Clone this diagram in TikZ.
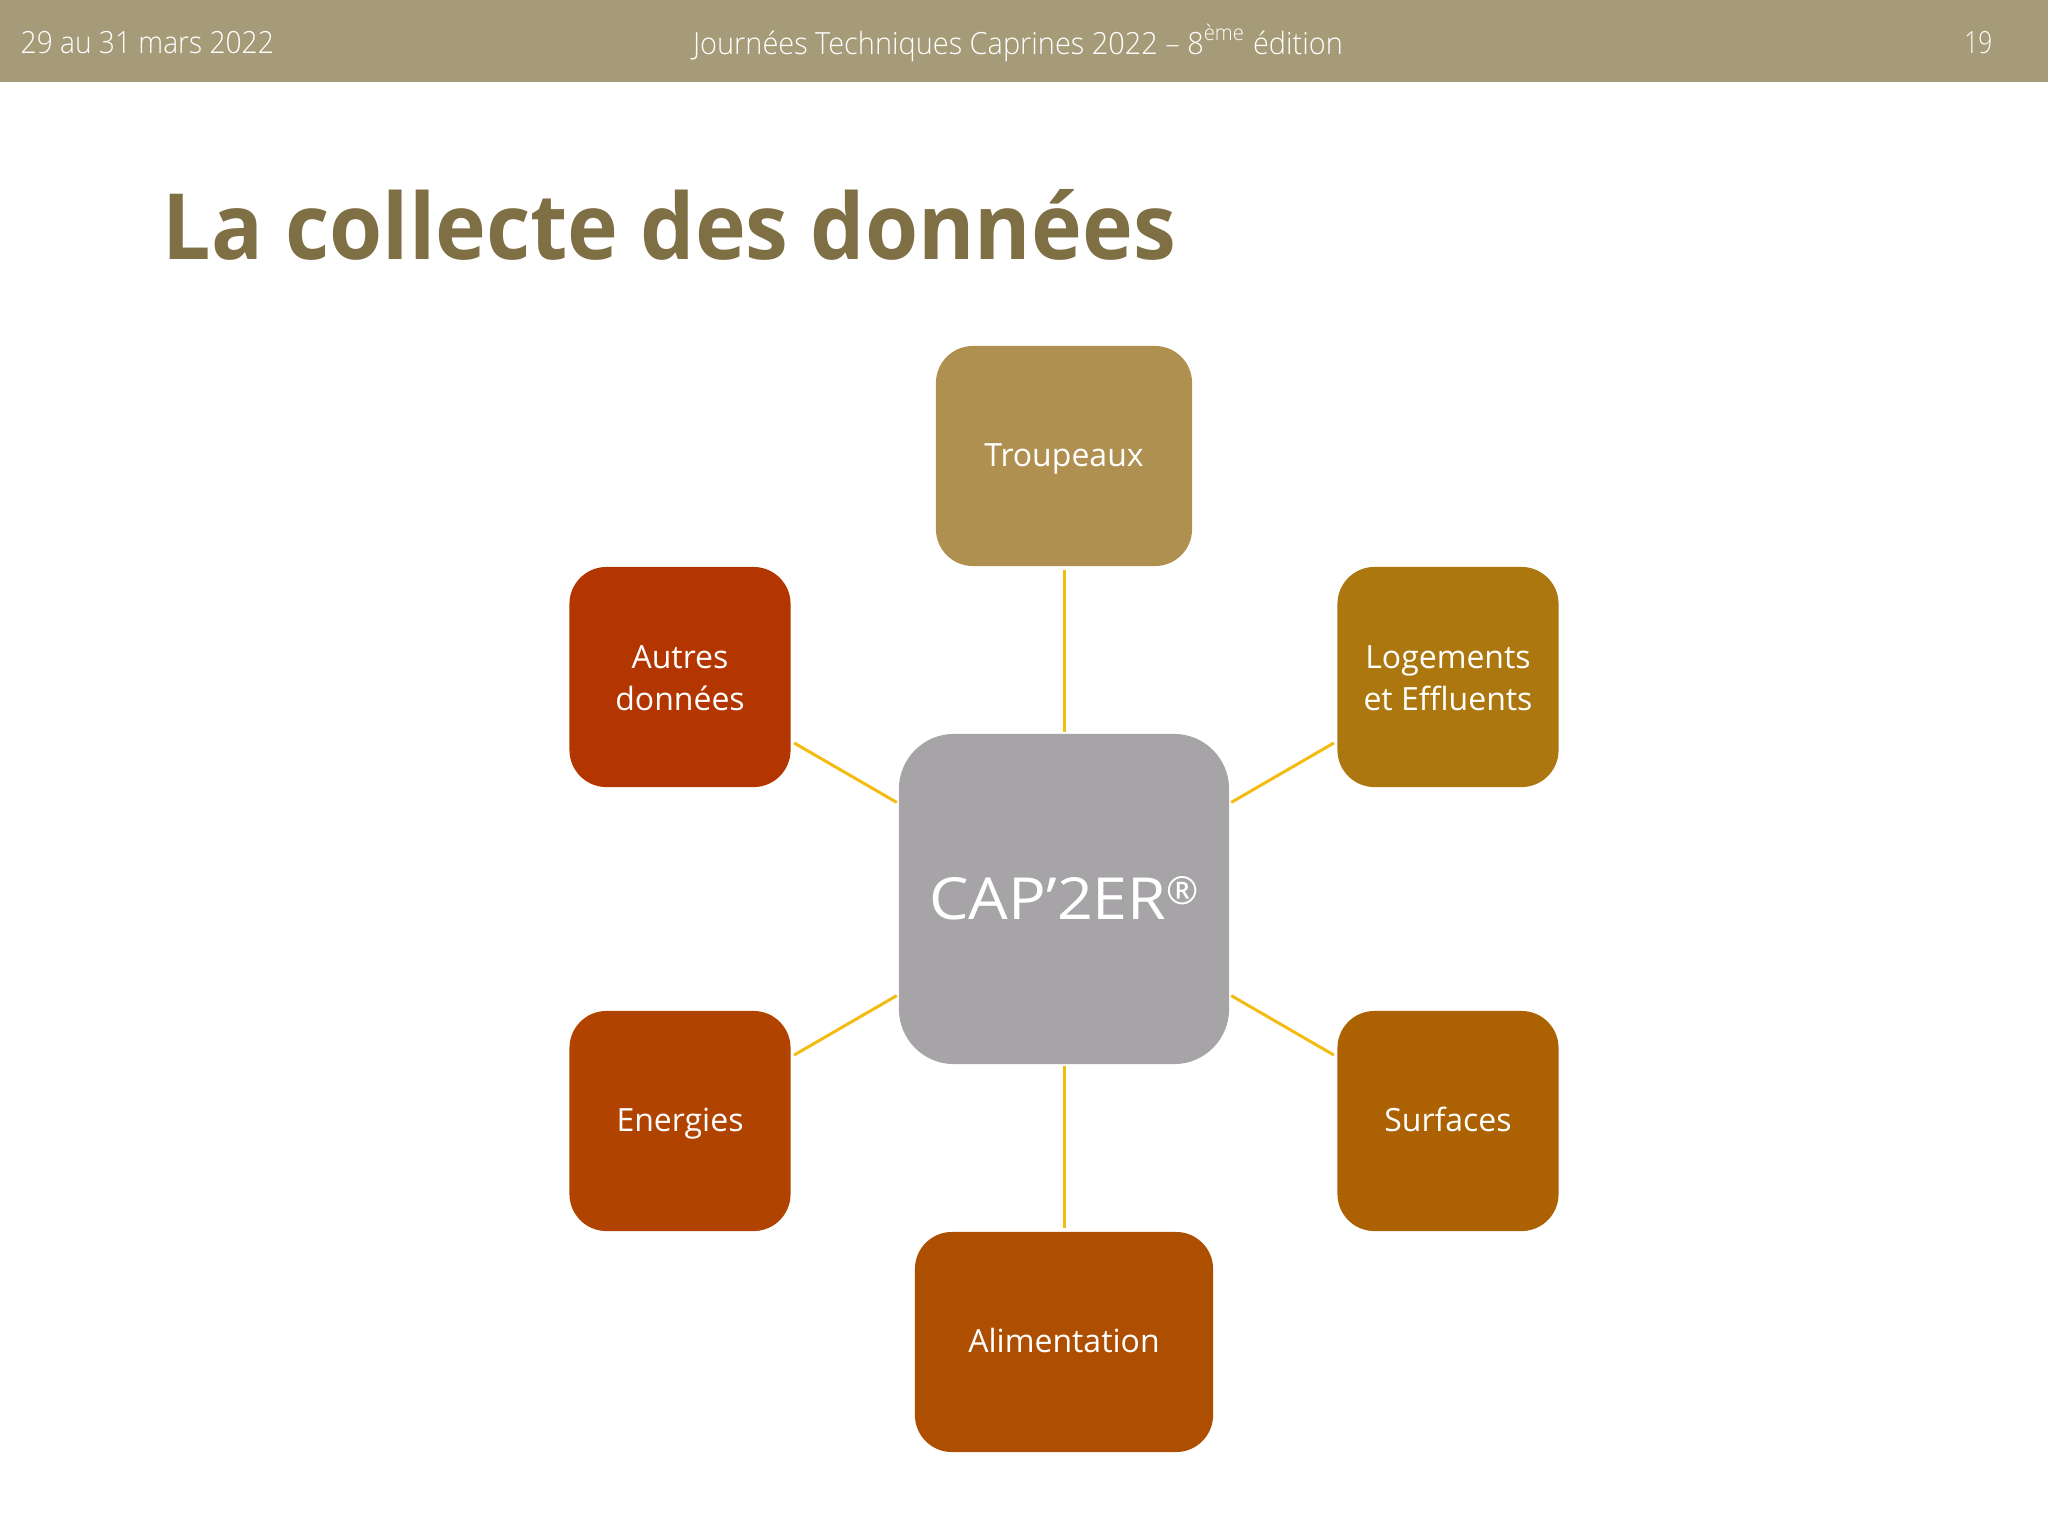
\documentclass[tikz,border=0pt]{standalone}
\usepackage{fontspec}
\setmainfont{Open Sans}
\newfontfamily\lightfont{Open Sans Light}
\definecolor{bandeau}{HTML}{A59B78}
\definecolor{titre}{HTML}{7F6F45}
\definecolor{lien}{HTML}{F4BC13}
\definecolor{gris}{HTML}{A6A4A7}
\definecolor{troupeau}{HTML}{B09050}
\definecolor{logement}{HTML}{AB770E}
\definecolor{surface}{HTML}{AC6203}
\definecolor{aliment}{HTML}{AE4E00}
\definecolor{energie}{HTML}{B14300}
\definecolor{autre}{HTML}{B33500}
\newcommand{\baisse}[1]{\smash{\raisebox{-5.4pt}{#1}}}
\tikzset{
  topic/.style={rectangle,rounded corners=0.37cm,inner sep=0pt,outer sep=1pt,text=white,align=center,
    minimum width=2.21cm,minimum height=2.2cm,font=\fontsize{9.1}{11.9}\selectfont,
    execute at begin node=\rule{0pt}{10pt},execute at end node=\rule[-3.9pt]{0pt}{3.9pt}},
  deux/.style={execute at begin node={},execute at end node={}},
  entete/.style={text=white,inner sep=0pt,font=\lightfont\fontsize{8.7}{10}\selectfont},
  lien/.style={draw=lien,line width=0.85pt}
}
\begin{document}
\begin{tikzpicture}[x=0.01cm,y=-0.01cm]
        \useasboundingbox (0,0) rectangle (2048,1536);
        \fill[bandeau] (0,0) rectangle (2048,82);
        \node[entete,anchor=west] (date) at (20,43) {\scalebox{0.92}[1]{29 au 31 mars 2022}};
        \node[entete] (event) at (1018,43) {\scalebox{0.945}[1]{Journées Techniques Caprines 2022 – 8\textsuperscript{ème} édition}};
        \node[entete,anchor=east] (page) at (1993,43) {\scalebox{0.8}[1]{19}};
        \node[anchor=base west,inner sep=0pt,text=titre,font=\bfseries\fontsize{26}{30}\selectfont] (title) at (162,259) {\scalebox{0.94}[1]{La collecte des données}};
        \node[topic,fill=gris,rounded corners=0.55cm,outer sep=0.6pt,minimum width=3.3cm,minimum height=3.3cm,font=\fontsize{16.5}{20}\selectfont,
          execute at begin node=\rule{0pt}{15.5pt},execute at end node={}] (cap) at (1064,899) {\scalebox{1.08}[1]{CAP’2ER}\smash{\raisebox{4.3pt}{\fontsize{11}{11}\selectfont ®}}};
        \node[topic,fill=troupeau,minimum width=2.56cm] (q0) at (1064,456) {Troupeaux};
        \node[topic,deux,fill=logement] (q1) at (1448,677) {\baisse{Logements}\\\baisse{et Effluents}};
        \node[topic,fill=surface] (q2) at (1448,1121) {Surfaces};
        \node[topic,fill=aliment,minimum width=2.98cm] (q3) at (1064,1342) {Alimentation};
        \node[topic,fill=energie] (q4) at (680,1121) {Energies};
        \node[topic,deux,fill=autre] (q5) at (680,677) {\baisse{Autres}\\\baisse{données}};
        \foreach \n in {q0,q1,q2,q3,q4,q5}
          \draw[lien] (cap) -- (\n);
\end{tikzpicture}
\end{document}
